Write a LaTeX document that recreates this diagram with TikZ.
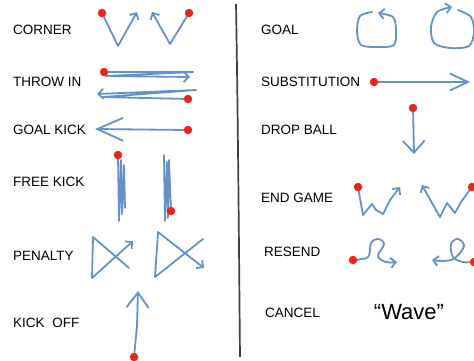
\documentclass[tikz,border=0pt]{standalone}
\usepackage{fontspec}
\setmainfont{Liberation Sans}
\usetikzlibrary{arrows.meta}
\definecolor{penblue}{RGB}{98,146,200}
\definecolor{penred}{RGB}{236,36,26}

\begin{document}
\begin{tikzpicture}[x=1pt,y=-1pt,
  lbl/.style={anchor=west,inner sep=0pt,font=\fontsize{13.5}{16}\selectfont},
  stroke/.style={draw=penblue,line width=1.8pt,line join=round,line cap=round},
  tip/.style={-{Straight Barb[length=5pt,width=10pt]}},
  dot/.style={circle,fill=penred,inner sep=0pt,minimum size=8.5pt}]
  \useasboundingbox (0,0) rectangle (474,360);

  % labels, left column
  \node (corner)   [lbl] at (13,30)  {CORNER};
  \node (throwin)  [lbl] at (13,82)  {THROW IN};
  \node (goalkick) [lbl] at (13,130) {GOAL KICK};
  \node (freekick) [lbl] at (13,182) {FREE KICK};
  \node (penalty)  [lbl] at (13,256) {PENALTY};
  \node (kickoff)  [lbl] at (13,323) {KICK\hspace{4pt} OFF};
  % labels, right column
  \node (goal)     [lbl] at (261,30)  {GOAL};
  \node (subst)    [lbl] at (261,82)  {SUBSTITUTION};
  \node (dropball) [lbl] at (261,130) {DROP BALL};
  \node (endgame)  [lbl] at (261,198) {END GAME};
  \node (resend)   [lbl] at (264,252) {RESEND};
  \node (cancel)   [lbl] at (265,313) {CANCEL};
  \node (wave) at (409,312) [inner sep=0pt,font=\fontsize{22}{26}\selectfont] {“Wave”};

  % divider
  \draw[black!75,line width=1.7pt] (236,4) .. controls (238,120) and (239,250) .. (240,357);

  % start points
  \coordinate (cn1) at (102,13);
  \coordinate (cn2) at (189,13);
  \coordinate (ti1) at (104,72);
  \coordinate (ti2) at (188,99);
  \coordinate (gk)  at (188,130);
  \coordinate (fk1) at (118,155);
  \coordinate (fk2) at (171,211);
  \coordinate (ko)  at (134,357);
  \coordinate (sb)  at (374,82);
  \coordinate (db)  at (413,108);
  \coordinate (eg1) at (358,187);
  \coordinate (eg2) at (472,187);
  \coordinate (rs1) at (353,260);
  \coordinate (rs2) at (474,262);

  % corner
  \draw[stroke,tip] (cn1) -- (118,46) -- (137,12);
  \draw[stroke,tip] (cn2) -- (170,44) -- (152,12);
  % throw in
  \draw[stroke,tip] (ti1) -- (193,72) -- (106,76) -- (190,77);
  \draw[stroke,tip] (ti2) -- (103,97) -- (196,90) -- (97,94);
  % goal kick
  \draw[stroke,-{Straight Barb[length=26pt,width=23pt]}] (gk) -- (95,129);
  % free kick
  \draw[stroke] (fk1) -- (119,221) -- (121,160) -- (122,214) -- (124,165) -- (125,208);
  \draw[stroke] (164,155) -- (165,221) -- (167,162) -- (168,218) -- (169,160) -- (fk2);
  % penalty
  \draw[stroke,tip] (129,268) -- (93,237) -- (92,278) -- (133,241);
  \draw[stroke,tip] (203,239) -- (155,277) -- (158,232) -- (204,268);
  % kick off
  \draw[stroke,-{Straight Barb[length=15pt,width=22pt]}] (ko) -- (137,326) -- (138,291);
  % goal
  \draw[stroke,tip] plot[smooth] coordinates {(372,12) (360,16) (357,31) (361,45) (378,47) (394,45) (396,30) (393,17) (378,13)};
  \draw[stroke,tip] plot[smooth] coordinates {(458,10) (471,17) (474,32) (469,46) (450,48) (434,43) (431,27) (437,12) (452,7)};
  % substitution
  \draw[stroke,-{Straight Barb[length=18pt,width=17pt]}] (sb) -- (470,82);
  % drop ball
  \draw[stroke,-{Straight Barb[length=12pt,width=22pt]}] (db) -- (414,154);
  % end game
  \draw[stroke,tip] (eg1) -- (363,215) -- (372,204) -- (376,210) -- (383,214) -- (390,200) -- (400,187);
  \draw[stroke,tip] (eg2) -- (461,202) -- (455,213) -- (447,203) -- (440,217) -- (432,203) -- (422,185);
  % resend
  \draw[stroke,tip] plot[smooth,tension=0.6] coordinates {(rs1) (368,257) (371,243) (378,239) (384,244) (378,256) (386,262) (397,262)};
  \draw[stroke,tip] plot[smooth,tension=0.6] coordinates {(rs2) (463,262) (453,257) (451,244) (458,239) (464,246) (455,258) (444,261) (432,260)};

  % red dots on top
  \foreach \p in {cn1,cn2,ti1,ti2,gk,fk1,fk2,ko,sb,db,eg1,eg2,rs1,rs2}
    \node[dot] at (\p) {};
\end{tikzpicture}
\end{document}
